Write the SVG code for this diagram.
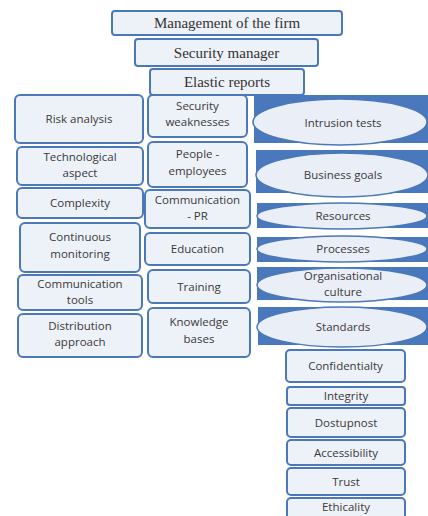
<svg xmlns="http://www.w3.org/2000/svg" width="428" height="516" viewBox="0 0 428 516">
<style>
.box{fill:#edf1f8;stroke:#4a78b8;stroke-width:2}
.band{fill:#4a78bd}
.ell{fill:#e9eef7;stroke:#4a78b8;stroke-width:1.5}
.t{font-family:"Open Sans","Liberation Sans",sans-serif;font-size:11.5px;fill:#3a3a3a;text-anchor:middle}
.s{font-family:"Liberation Serif",serif;font-size:15px;fill:#333;text-anchor:middle}
</style>
<rect width="428" height="516" fill="#ffffff"/>
<g id="connectors"/>
<g id="management"><rect class="box" x="112" y="11" width="230" height="24" rx="3"/><text class="s" x="227" y="28">Management of the firm</text></g>
<g id="security-manager"><rect class="box" x="135" y="39" width="183" height="27" rx="3"/><text class="s" x="226.5" y="57.5">Security manager</text></g>
<g id="elastic-reports"><rect class="box" x="150" y="69" width="154" height="26" rx="3"/><text class="s" x="227" y="87">Elastic reports</text></g>

<g id="risk-analysis"><rect class="box" x="15" y="95" width="128" height="48" rx="5"/><text class="t" x="79" y="123">Risk analysis</text></g>
<g id="technological-aspect"><rect class="box" x="17" y="147" width="126" height="38" rx="5"/><text class="t" x="80" y="161">Technological</text><text class="t" x="80" y="177">aspect</text></g>
<g id="complexity"><rect class="box" x="17" y="188" width="126" height="30" rx="5"/><text class="t" x="80" y="207">Complexity</text></g>
<g id="continuous-monitoring"><rect class="box" x="20" y="223" width="120" height="49" rx="5"/><text class="t" x="80" y="241">Continuous</text><text class="t" x="80" y="258">monitoring</text></g>
<g id="communication-tools"><rect class="box" x="18" y="275" width="124" height="35" rx="5"/><text class="t" x="80" y="288">Communication</text><text class="t" x="80" y="304">tools</text></g>
<g id="distribution-approach"><rect class="box" x="18" y="314" width="124" height="43" rx="5"/><text class="t" x="80" y="330">Distribution</text><text class="t" x="80" y="346">approach</text></g>

<g id="security-weaknesses"><rect class="box" x="148" y="95" width="99" height="42" rx="5"/><text class="t" x="197.5" y="110">Security</text><text class="t" x="197.5" y="126">weaknesses</text></g>
<g id="people-employees"><rect class="box" x="148" y="142" width="99" height="45" rx="5"/><text class="t" x="197.5" y="158">People -</text><text class="t" x="197.5" y="175">employees</text></g>
<g id="communication-pr"><rect class="box" x="145" y="190" width="105" height="38" rx="5"/><text class="t" x="197.5" y="204">Communication</text><text class="t" x="197.5" y="220">- PR</text></g>
<g id="education"><rect class="box" x="145" y="233" width="105" height="32" rx="5"/><text class="t" x="197.5" y="253">Education</text></g>
<g id="training"><rect class="box" x="148" y="270" width="102" height="33" rx="5"/><text class="t" x="199" y="291">Training</text></g>
<g id="knowledge-bases"><rect class="box" x="148" y="308" width="102" height="49" rx="5"/><text class="t" x="199" y="326">Knowledge</text><text class="t" x="199" y="343">bases</text></g>

<g id="intrusion-tests"><rect class="band" x="254" y="95" width="174" height="48"/><ellipse class="ell" cx="340" cy="122" rx="87" ry="23"/><text class="t" x="343" y="127">Intrusion tests</text></g>
<g id="business-goals"><rect class="band" x="256" y="150" width="172" height="43"/><ellipse class="ell" cx="342" cy="175" rx="86" ry="22"/><text class="t" x="343" y="179">Business goals</text></g>
<g id="resources"><rect class="band" x="257" y="203" width="171" height="25"/><ellipse class="ell" cx="342" cy="216" rx="85" ry="13"/><text class="t" x="343" y="220">Resources</text></g>
<g id="processes"><rect class="band" x="257" y="237" width="171" height="25"/><ellipse class="ell" cx="342" cy="249" rx="85" ry="13"/><text class="t" x="343" y="253">Processes</text></g>
<g id="organisational-culture"><rect class="band" x="257" y="267" width="171" height="33"/><ellipse class="ell" cx="342" cy="285" rx="85" ry="17"/><text class="t" x="343" y="280">Organisational</text><text class="t" x="343" y="296">culture</text></g>
<g id="standards"><rect class="band" x="258" y="307" width="170" height="38"/><ellipse class="ell" cx="342" cy="327" rx="85" ry="20"/><text class="t" x="343" y="331">Standards</text></g>

<g id="confidentialty"><rect class="box" x="286" y="350" width="119" height="32" rx="4"/><text class="t" x="345.5" y="370">Confidentialty</text></g>
<g id="integrity"><rect class="box" x="287" y="387" width="118" height="18" rx="3"/><text class="t" x="346" y="400">Integrity</text></g>
<g id="dostupnost"><rect class="box" x="287" y="408" width="118" height="29" rx="4"/><text class="t" x="346" y="427">Dostupnost</text></g>
<g id="accessibility"><rect class="box" x="287" y="440" width="118" height="25" rx="4"/><text class="t" x="346" y="457">Accessibility</text></g>
<g id="trust"><rect class="box" x="287" y="468" width="118" height="27" rx="4"/><text class="t" x="346" y="486">Trust</text></g>
<g id="ethicality"><rect class="box" x="287" y="498" width="118" height="22" rx="4"/><text class="t" x="346" y="511">Ethicality</text></g>
</svg>
